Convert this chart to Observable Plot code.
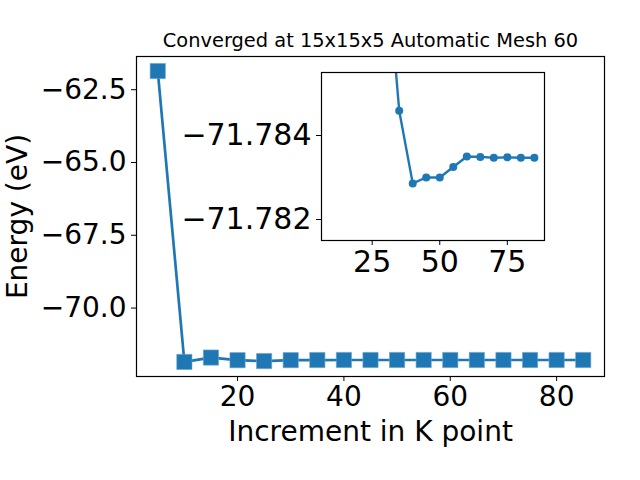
<!DOCTYPE html>
<html>
<head>
<meta charset="utf-8">
<script src="https://cdn.jsdelivr.net/npm/d3@7"></script>
<script src="https://cdn.jsdelivr.net/npm/@observablehq/plot@0.6"></script>
<style>
  body { margin: 0; background: white; }
  #wrap { position: relative; width: 640px; height: 480px; }
  #wrap svg { position: absolute; left: 0; top: 0; }
</style>
</head>
<body>
<div id="wrap"></div>
<script>
// Data
const kpoints = [5, 10, 15, 20, 25, 30, 35, 40, 45, 50, 55, 60, 65, 70, 75, 80, 85];
const energies = [-61.86, -71.85, -71.70, -71.79, -71.82, -71.7884, -71.78459, -71.78286, -71.7830, -71.7830, -71.78325, -71.7835, -71.78349, -71.78347, -71.78348, -71.78347, -71.78347];
const insetStart = 30;
const mainTicksX = [20, 40, 60, 80];
const mainTicksY = [-70, -67.5, -65, -62.5];
const insetTicksX = [25, 50, 75];
const insetTicksY = [-71.784, -71.782];
const titleText = "Converged at 15x15x5 Automatic Mesh 60";
const xLabel = "Increment in K point";
const yLabel = "Energy (eV)";

const data = kpoints.map((k, i) => ({k, e: energies[i]}));
const insetData = data.filter(d => d.k >= insetStart);

const blue = "#1f77b4";
const font = "DejaVu Sans";

const main = Plot.plot({
  width: 640, height: 480,
  marginTop: 56, marginLeft: 136, marginRight: 36, marginBottom: 104,
  style: {fontFamily: font, fontSize: "28px", color: "black", background: "white", overflow: "visible"},
  x: {domain: [1, 89]},
  y: {domain: [-72.35, -61.36]},
  marks: [
    Plot.line(data, {x: "k", y: "e", stroke: blue, strokeWidth: 2.7}),
    Plot.dot(data, {x: "k", y: "e", symbol: "square", r: 8.6, fill: blue, stroke: "#6fa6d0", strokeWidth: 0.6}),
    Plot.frame({stroke: "black", strokeWidth: 1.2}),
    Plot.axisX({ticks: mainTicksX, tickSize: 5, tickPadding: 5, label: null, fontSize: 28, tickFormat: d3.format("d")}),
    Plot.axisY({ticks: mainTicksY, tickSize: 5, tickPadding: 5, label: null, fontSize: 28, tickFormat: d3.format(".1f")}),
    Plot.text([titleText], {frameAnchor: "top", dy: -10, fontSize: 19.4, lineAnchor: "bottom", fill: "black"}),
    Plot.text([xLabel], {frameAnchor: "bottom", dy: 56, fontSize: 28, lineAnchor: "middle", fill: "black"}),
    Plot.text([yLabel], {frameAnchor: "left", dx: -118, rotate: -90, fontSize: 28, textAnchor: "middle", lineAnchor: "middle", fill: "black"})
  ]
});

const inset = Plot.plot({
  width: 640, height: 480,
  marginTop: 72, marginLeft: 321, marginRight: 96, marginBottom: 240,
  style: {fontFamily: font, fontSize: "30px", color: "black", background: "transparent", overflow: "visible"},
  x: {domain: [6.25, 88.75]},
  y: {domain: [-71.7815, -71.7855]},
  marks: [
    Plot.frame({fill: "white", stroke: "none"}),
    Plot.line(insetData, {x: "k", y: "e", stroke: blue, strokeWidth: 2.4, clip: true}),
    Plot.dot(insetData, {x: "k", y: "e", r: 4, fill: blue, clip: true}),
    Plot.frame({stroke: "black", strokeWidth: 1.2}),
    Plot.axisX({ticks: insetTicksX, tickSize: 5, tickPadding: 5, label: null, fontSize: 30, tickFormat: d3.format("d")}),
    Plot.axisY({ticks: insetTicksY, tickSize: 5, tickPadding: 5, label: null, fontSize: 30, tickFormat: d3.format(".3f")})
  ]
});

const wrap = document.getElementById("wrap");
wrap.appendChild(main);
wrap.appendChild(inset);
</script>
</body>
</html>
